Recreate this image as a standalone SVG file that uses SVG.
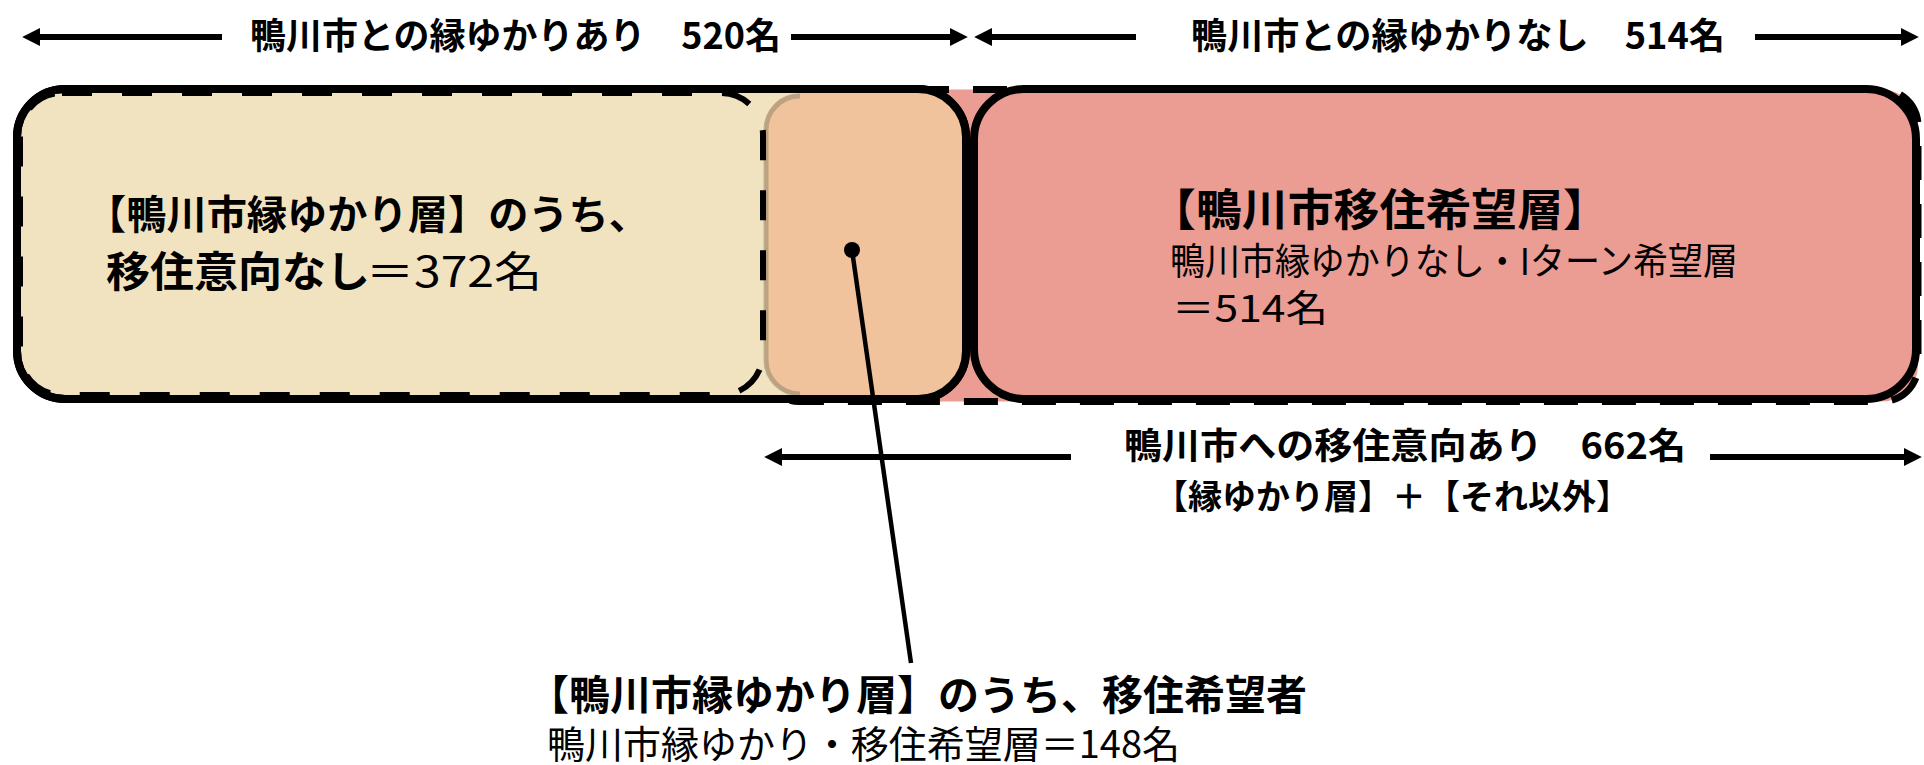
<svg xmlns="http://www.w3.org/2000/svg" width="1924" height="765" viewBox="0 0 1924 765">
<style>
text{font-family:"Noto Sans CJK JP","Noto Sans",sans-serif;fill:#000}
.b{font-weight:700}
.r{font-weight:400}
.ar{stroke:#000;stroke-width:6;fill:none}
.box{stroke:#000;stroke-width:8}
</style>
<defs>
<marker id="ah" markerUnits="userSpaceOnUse" markerWidth="18" markerHeight="18" viewBox="0 0 17 17" refX="3" refY="8.5" orient="auto-start-reverse">
<path d="M0,0 L17,8.5 L0,17 z" fill="#000"/>
</marker>
<clipPath id="leftclip"><rect x="17" y="89" width="949" height="310" rx="48"/></clipPath>
</defs>

<g id="intent-set">
<rect x="763" y="89.5" width="1155" height="312" rx="36" fill="#EB9C93" stroke="#000" stroke-width="7" stroke-dasharray="34 24"/>
</g>

<g id="left-box">
<rect class="box" x="17" y="89" width="949" height="310" rx="48" fill="#F2E3C0"/>
<g clip-path="url(#leftclip)">
<rect x="765" y="93" width="240" height="302" rx="34" fill="#F0C39D"/>
<path d="M800,96 A34,34 0 0 0 766,130 L766,360 A34,34 0 0 0 800,394" fill="none" stroke="#9A8C6C" stroke-opacity="0.6" stroke-width="5"/>
</g>
<rect x="20" y="93" width="743" height="302" rx="42" fill="none" stroke="#000" stroke-width="6" stroke-dasharray="30 30"/>
<rect class="box" x="17" y="89" width="949" height="310" rx="48" fill="none"/>
<text class="b" x="86" y="229" font-size="40" textLength="563" lengthAdjust="spacingAndGlyphs">【鴨川市縁ゆかり層】のうち、</text>
<text class="b" x="106" y="287" font-size="42" textLength="264" lengthAdjust="spacingAndGlyphs">移住意向なし</text>
<text class="r" x="366" y="287" font-size="42" textLength="176" lengthAdjust="spacingAndGlyphs">＝372名</text>
</g>

<g id="right-box">
<rect class="box" x="974" y="89" width="942" height="310" rx="50" fill="#EB9C93"/>
<text class="b" x="1150" y="226" font-size="44" textLength="459" lengthAdjust="spacingAndGlyphs">【鴨川市移住希望層】</text>
<text class="r" x="1170" y="275" font-size="37" textLength="568" lengthAdjust="spacingAndGlyphs">鴨川市縁ゆかりなし・Iターン希望層</text>
<text class="r" x="1172" y="322" font-size="37" textLength="156" lengthAdjust="spacingAndGlyphs">＝514名</text>
</g>

<g id="label-top-left">
<text class="b" x="250" y="49" font-size="36" textLength="531" lengthAdjust="spacingAndGlyphs">鴨川市との縁ゆかりあり　520名</text>
</g>
<g id="label-top-right">
<text class="b" x="1191" y="49" font-size="36" textLength="534" lengthAdjust="spacingAndGlyphs">鴨川市との縁ゆかりなし　514名</text>
</g>
<g id="label-middle">
<text class="b" x="1124" y="459" font-size="36" textLength="562" lengthAdjust="spacingAndGlyphs">鴨川市への移住意向あり　662名</text>
<text class="b" x="1154" y="509" font-size="34" textLength="476" lengthAdjust="spacingAndGlyphs">【縁ゆかり層】＋【それ以外】</text>
</g>
<g id="label-bottom">
<text class="b" x="528" y="710" font-size="41" textLength="779" lengthAdjust="spacingAndGlyphs">【鴨川市縁ゆかり層】のうち、移住希望者</text>
<text class="r" x="547" y="758" font-size="38" textLength="633" lengthAdjust="spacingAndGlyphs">鴨川市縁ゆかり・移住希望層＝148名</text>
</g>

<g id="connectors">
<line class="ar" x1="37" y1="37" x2="222" y2="37" marker-start="url(#ah)"/>
<line class="ar" x1="791" y1="37" x2="953" y2="37" marker-end="url(#ah)"/>
<line class="ar" x1="989" y1="37" x2="1136" y2="37" marker-start="url(#ah)"/>
<line class="ar" x1="1755" y1="37" x2="1904" y2="37" marker-end="url(#ah)"/>
<line class="ar" x1="779" y1="457" x2="1071" y2="457" marker-start="url(#ah)"/>
<line class="ar" x1="1710" y1="457" x2="1907" y2="457" marker-end="url(#ah)"/>
<line x1="852" y1="250" x2="911" y2="663" stroke="#000" stroke-width="4.5"/>
<circle cx="852" cy="250" r="8" fill="#000"/>
</g>
</svg>
